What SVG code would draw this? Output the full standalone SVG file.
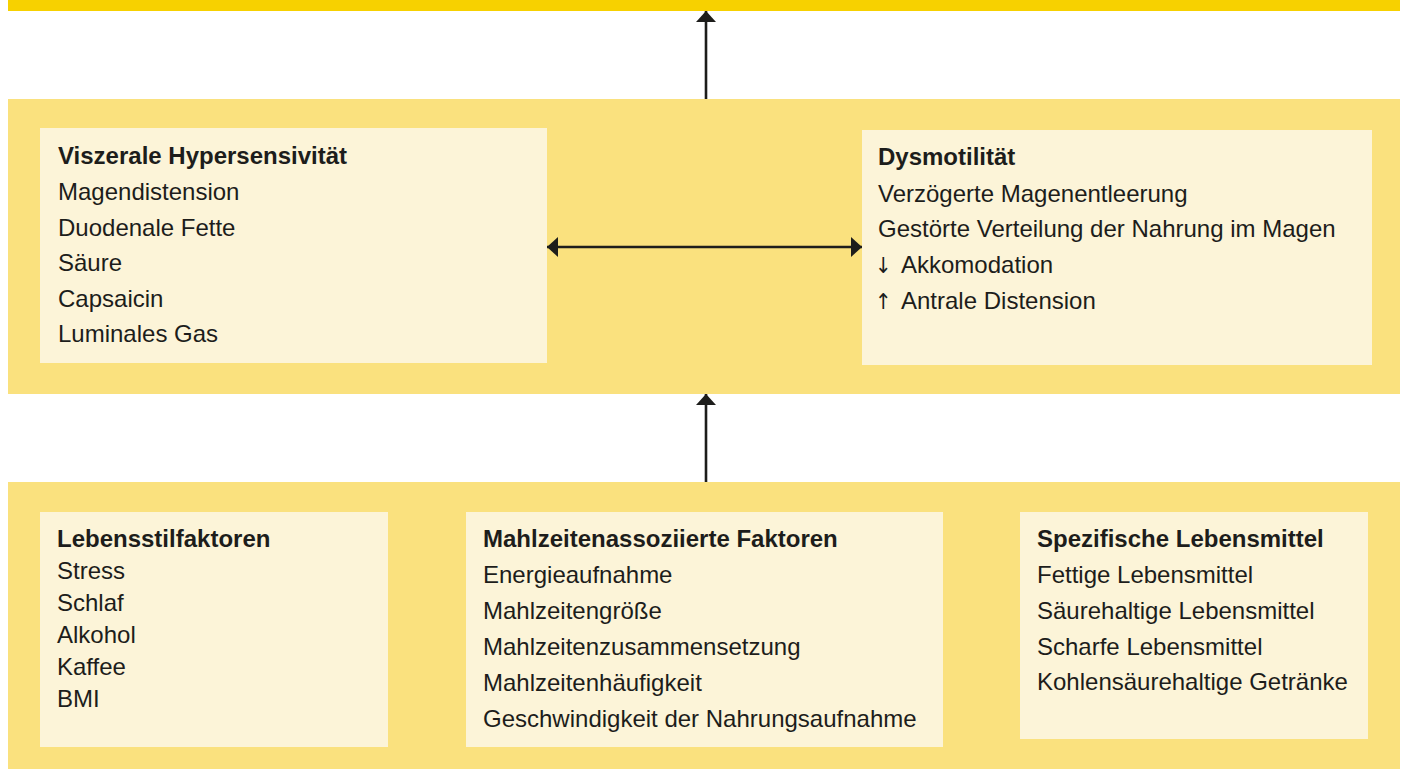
<svg xmlns="http://www.w3.org/2000/svg" width="1405" height="769" viewBox="0 0 1405 769">
<defs>
<style>
.bar{fill:#F7D100}
.panel{fill:#FAE17E}
.box{fill:#FCF4D8}
.t{font-family:"Liberation Sans",Arial,sans-serif;font-size:24px;fill:#1d1d1b}
.b{font-weight:bold}
.ar{font-family:"DejaVu Sans Condensed","DejaVu Sans",sans-serif;font-size:22px;fill:#1d1d1b}
.c{stroke:#1d1d1b;stroke-width:2.6;fill:none}
</style>
<marker id="ah" markerUnits="userSpaceOnUse" markerWidth="12" markerHeight="20" viewBox="0 0 12 20" refX="11" refY="10" orient="auto-start-reverse">
<path d="M0,0 L11,10 L0,20 Z" fill="#1d1d1b"/>
</marker>
</defs>
<rect width="1405" height="769" fill="#ffffff"/>
<g id="top-bar"><rect class="bar" x="8" y="0" width="1392" height="11"/></g>
<g id="middle-panel"><rect class="panel" x="8" y="99" width="1392" height="295"/></g>
<g id="bottom-panel"><rect class="panel" x="8" y="482" width="1392" height="287"/></g>
<g id="viszerale">
<rect class="box" x="40" y="128" width="507" height="235"/>
<text class="t b" x="58" y="164">Viszerale Hypersensivität</text>
<text class="t" x="58" y="200">Magendistension</text>
<text class="t" x="58" y="235.5">Duodenale Fette</text>
<text class="t" x="58" y="271">Säure</text>
<text class="t" x="58" y="306.5">Capsaicin</text>
<text class="t" x="58" y="342">Luminales Gas</text>
</g>
<g id="dysmotilitaet">
<rect class="box" x="862" y="130" width="510" height="235"/>
<text class="t b" x="878" y="165">Dysmotilität</text>
<text class="t" x="878" y="201.5">Verzögerte Magenentleerung</text>
<text class="t" x="878" y="237">Gestörte Verteilung der Nahrung im Magen</text>
<text class="t" x="875" y="273"><tspan class="ar">↓</tspan><tspan x="901">Akkomodation</tspan></text>
<text class="t" x="875" y="309"><tspan class="ar">↑</tspan><tspan x="901">Antrale Distension</tspan></text>
</g>
<g id="lebensstil">
<rect class="box" x="40" y="512" width="348" height="235"/>
<text class="t b" x="57" y="547">Lebensstilfaktoren</text>
<text class="t" x="57" y="579">Stress</text>
<text class="t" x="57" y="611">Schlaf</text>
<text class="t" x="57" y="643">Alkohol</text>
<text class="t" x="57" y="675">Kaffee</text>
<text class="t" x="57" y="707">BMI</text>
</g>
<g id="mahlzeiten">
<rect class="box" x="466" y="512" width="477" height="235"/>
<text class="t b" x="483" y="546.5">Mahlzeitenassoziierte Faktoren</text>
<text class="t" x="483" y="583">Energieaufnahme</text>
<text class="t" x="483" y="619">Mahlzeitengröße</text>
<text class="t" x="483" y="655">Mahlzeitenzusammensetzung</text>
<text class="t" x="483" y="690.5">Mahlzeitenhäufigkeit</text>
<text class="t" x="483" y="726.5">Geschwindigkeit der Nahrungsaufnahme</text>
</g>
<g id="lebensmittel">
<rect class="box" x="1020" y="512" width="348" height="227"/>
<text class="t b" x="1037" y="546.5">Spezifische Lebensmittel</text>
<text class="t" x="1037" y="583">Fettige Lebensmittel</text>
<text class="t" x="1037" y="619">Säurehaltige Lebensmittel</text>
<text class="t" x="1037" y="655">Scharfe Lebensmittel</text>
<text class="t" x="1037" y="690">Kohlensäurehaltige Getränke</text>
</g>
<g id="connectors">
<line class="c" x1="706" y1="99" x2="706" y2="11" marker-end="url(#ah)"/>
<line class="c" x1="706" y1="482" x2="706" y2="394" marker-end="url(#ah)"/>
<line class="c" x1="547" y1="247" x2="862" y2="247" marker-start="url(#ah)" marker-end="url(#ah)"/>
</g>
</svg>
